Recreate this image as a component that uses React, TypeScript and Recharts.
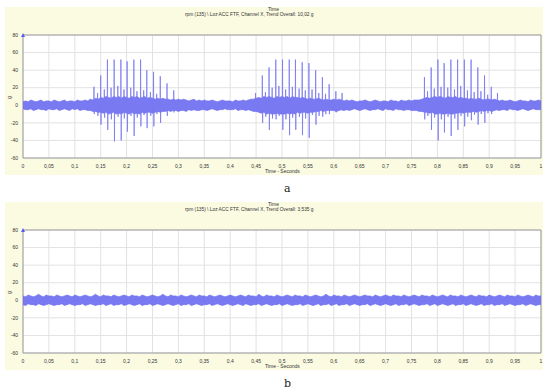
import React from "react";
import { ComposedChart, Line, Area, XAxis, YAxis, CartesianGrid, ReferenceArea, ReferenceDot } from "recharts";

const xTicks = [0, 0.05, 0.1, 0.15, 0.2, 0.25, 0.3, 0.35, 0.4, 0.45, 0.5, 0.55, 0.6, 0.65, 0.7, 0.75, 0.8, 0.85, 0.9, 0.95, 1];
const yTicks = [-60, -40, -20, 0, 20, 40, 60, 80];

const envStep = 0.005;

// envelope of the background vibration, chart a (max / min every 5 ms)
const upperA = [
  4, 5, 4, 6, 5, 4, 5, 6, 4, 5, 5, 4, 6, 5, 4, 5, 6, 4, 5, 5,
  4, 6, 5, 5, 6, 5, 7, 6, 8, 7, 9, 8, 10, 9, 8, 10, 9, 10, 8, 10,
  9, 8, 10, 9, 10, 8, 9, 10, 8, 9, 8, 7, 8, 7, 8, 7, 7, 6, 7, 6,
  7, 6, 7, 6, 5, 6, 7, 5, 6, 5, 6, 5, 5, 6, 5, 4, 5, 6, 5, 5,
  5, 4, 6, 5, 5, 6, 5, 6, 7, 7, 8, 9, 8, 10, 9, 10, 9, 8, 10, 9,
  10, 9, 10, 8, 10, 9, 9, 8, 9, 8, 7, 8, 7, 7, 8, 7, 6, 7, 6, 6,
  7, 6, 7, 6, 5, 6, 5, 6, 5, 4, 5, 5, 6, 5, 4, 5, 6, 5, 4, 5,
  5, 4, 6, 5, 5, 4, 6, 5, 5, 6, 5, 6, 6, 6, 7, 8, 9, 8, 9, 10,
  9, 10, 9, 8, 10, 9, 9, 10, 8, 9, 8, 8, 7, 8, 7, 7, 8, 7, 6, 7,
  7, 6, 7, 6, 5, 6, 5, 5, 6, 5, 4, 5, 6, 5, 5, 4, 6, 5, 5, 6,
  5,
];
const lowerA = [
  -4, -5, -5, -4, -6, -5, -4, -5, -5, -6, -4, -5, -5, -4, -6, -5, -4, -5, -6, -4,
  -5, -4, -6, -5, -5, -6, -6, -7, -7, -8, -8, -9, -8, -10, -9, -8, -10, -9, -10, -8,
  -9, -10, -8, -10, -9, -10, -8, -9, -8, -8, -9, -8, -7, -8, -7, -7, -6, -7, -6, -6,
  -7, -6, -6, -7, -5, -6, -5, -6, -6, -5, -5, -6, -5, -4, -5, -6, -5, -5, -4, -5,
  -5, -5, -4, -6, -5, -5, -6, -5, -6, -7, -7, -8, -9, -8, -10, -9, -10, -10, -9, -10,
  -10, -10, -9, -10, -9, -10, -8, -9, -8, -8, -9, -8, -8, -7, -7, -6, -7, -6, -6, -6,
  -6, -7, -6, -5, -6, -5, -6, -5, -4, -5, -6, -5, -4, -5, -6, -5, -5, -4, -5, -6,
  -4, -5, -5, -6, -4, -5, -5, -6, -5, -5, -6, -6, -6, -7, -7, -8, -8, -9, -8, -10,
  -10, -9, -10, -10, -9, -10, -10, -9, -9, -8, -9, -8, -8, -8, -7, -8, -7, -6, -7, -6,
  -6, -7, -6, -5, -6, -5, -5, -6, -4, -5, -5, -6, -5, -4, -5, -6, -5, -4, -5, -5,
  -5,
];

// impact spikes, chart a
const spikeTimes = [
  0.137, 0.15, 0.163, 0.176, 0.189, 0.201, 0.214, 0.227, 0.239, 0.252, 0.265, 0.278, 0.291,
  0.449, 0.462, 0.475, 0.488, 0.501, 0.514, 0.526, 0.539, 0.552, 0.565, 0.578, 0.591, 0.604, 0.616,
  0.775, 0.788, 0.801, 0.813, 0.826, 0.839, 0.852, 0.865, 0.878, 0.891, 0.904, 0.916,
];
const spikeHigh = [
  21, 34, 52, 52, 52, 50, 52, 52, 40, 38, 33, 25, 17,
  14, 34, 43, 52, 52, 52, 52, 49, 48, 40, 32, 24, 16, 14,
  32, 43, 52, 48, 52, 52, 52, 52, 43, 34, 21, 14,
];
const spikeLow = [
  -10, -22, -28, -41, -40, -30, -35, -24, -26, -24, -20, -12, -8,
  -6, -20, -28, -16, -28, -34, -28, -34, -37, -22, -13, -10, -8, -6,
  -16, -28, -40, -31, -35, -28, -24, -17, -22, -20, -10, -6,
];

// smaller bursts between the impacts, chart a
const minorTimes = [
  0.144, 0.157, 0.17, 0.183, 0.195, 0.208, 0.22, 0.233, 0.246, 0.258,
  0.468, 0.481, 0.494, 0.507, 0.52, 0.533, 0.545, 0.558, 0.571, 0.584,
  0.781, 0.794, 0.807, 0.82, 0.833, 0.845, 0.858, 0.871, 0.884, 0.897,
];
const minorHigh = [
  14, 18, 20, 22, 18, 20, 16, 17, 15, 13,
  15, 20, 22, 18, 21, 19, 17, 18, 14, 13,
  16, 19, 21, 20, 18, 22, 17, 15, 16, 12,
];
const minorLow = [
  -12, -14, -16, -13, -15, -12, -14, -11, -12, -10,
  -13, -15, -12, -16, -14, -13, -15, -11, -12, -10,
  -12, -14, -16, -13, -15, -12, -13, -11, -10, -9,
];

// envelope of the background vibration, chart b
const upperB = [
  5, 4, 6, 5, 4, 5, 7, 5, 4, 6, 5, 5, 4, 6, 5, 4, 5, 6, 5, 4,
  6, 5, 4, 5, 6, 5, 4, 5, 7, 5, 4, 6, 5, 5, 4, 6, 5, 4, 5, 6,
  5, 4, 6, 5, 5, 4, 6, 5, 4, 5, 6, 5, 4, 5, 7, 5, 4, 6, 5, 5,
  4, 6, 5, 4, 5, 6, 5, 4, 6, 5, 5, 4, 6, 5, 4, 5, 6, 5, 4, 5,
  6, 5, 4, 5, 6, 5, 4, 6, 5, 5, 4, 7, 5, 4, 6, 5, 5, 4, 6, 5,
  4, 5, 6, 5, 4, 6, 5, 5, 4, 6, 5, 4, 5, 6, 5, 4, 5, 7, 5, 4,
  6, 5, 5, 4, 6, 5, 4, 5, 6, 5, 4, 5, 6, 5, 5, 4, 6, 5, 4, 5,
  6, 5, 4, 6, 5, 5, 4, 6, 5, 4, 5, 6, 5, 4, 6, 5, 5, 4, 6, 5,
  4, 5, 6, 5, 4, 6, 5, 5, 4, 6, 5, 4, 5, 6, 5, 4, 6, 5, 5, 4,
  6, 5, 4, 5, 6, 5, 4, 6, 5, 5, 4, 6, 5, 4, 5, 6, 5, 4, 6, 5,
  5,
];
const lowerB = [
  -5, -6, -4, -5, -5, -6, -4, -5, -6, -5, -4, -5, -6, -5, -5, -4, -6, -5, -4, -5,
  -6, -5, -5, -4, -6, -5, -4, -5, -6, -5, -5, -4, -6, -5, -4, -6, -5, -5, -4, -6,
  -5, -4, -5, -6, -5, -4, -6, -5, -5, -4, -6, -5, -4, -5, -6, -5, -4, -5, -6, -5,
  -4, -6, -5, -5, -4, -6, -5, -4, -5, -6, -5, -5, -4, -6, -5, -4, -5, -6, -5, -4,
  -5, -6, -5, -4, -5, -6, -4, -5, -6, -5, -5, -4, -6, -5, -4, -5, -6, -5, -5, -4,
  -6, -5, -4, -5, -6, -5, -5, -4, -6, -5, -4, -5, -6, -5, -4, -6, -5, -5, -4, -6,
  -5, -4, -6, -5, -5, -4, -6, -5, -4, -5, -6, -5, -5, -4, -6, -5, -4, -5, -6, -5,
  -4, -5, -6, -5, -4, -6, -5, -5, -4, -6, -5, -4, -5, -6, -5, -5, -4, -6, -5, -4,
  -6, -5, -4, -5, -6, -5, -4, -6, -5, -5, -4, -6, -5, -4, -5, -6, -5, -4, -6, -5,
  -5, -4, -6, -5, -5, -4, -6, -5, -4, -5, -6, -5, -5, -4, -6, -5, -4, -5, -6, -5,
  -5,
];

const buildBand = (upper: number[], lower: number[]) =>
  upper.map((hi, i) => ({ t: i * envStep, band: [lower[i], hi] }));

const buildSpikes = (times: number[][], highs: number[][], lows: number[][]) => {
  const rows: { t: number; v: number }[] = [{ t: 0, v: 0 }];
  times.forEach((list, k) =>
    list.forEach((t, i) => {
      rows.push({ t: t - 0.0004, v: 0 });
      rows.push({ t, v: highs[k][i] });
      rows.push({ t: t + 0.0006, v: lows[k][i] });
      rows.push({ t: t + 0.001, v: 0 });
    })
  );
  rows.push({ t: 1, v: 0 });
  return rows.sort((a, b) => a.t - b.t);
};

const bandA = buildBand(upperA, lowerA);
const bandB = buildBand(upperB, lowerB);
const spikesA = buildSpikes([spikeTimes, minorTimes], [spikeHigh, minorHigh], [spikeLow, minorLow]);

const FONT = "'Liberation Sans', Arial, sans-serif";
const fmt = (v: number) => String(v).replace(".", ",");

const Triangle = (p: any) => (
  <polygon points={`${p.cx - 2},${p.cy + 2} ${p.cx + 2},${p.cy + 2} ${p.cx},${p.cy - 2}`} fill="#5a5af0" />
);

function Panel({ top, band, spikes, subtitle, tag }: { top: number; band: any[]; spikes: any[] | null; subtitle: string; tag: string }) {
  const small: React.CSSProperties = { position: "absolute", fontFamily: FONT, color: "#333", whiteSpace: "nowrap", lineHeight: 1 };
  return (
    <>
      <div style={{ position: "absolute", left: 5, top, width: 538, height: 168, background: "#fbfbe2" }}>
        <div style={{ ...small, left: 263, top: 0, fontSize: 5 }}>Time</div>
        <div style={{ ...small, left: 180, top: 6, fontSize: 4.8 }}>{subtitle}</div>
        <div style={{ ...small, left: 260, top: 162, fontSize: 5 }}>Time - Seconds</div>
        <div style={{ ...small, left: 3, top: 88, fontSize: 5, transform: "rotate(-90deg)" }}>g</div>
        <ComposedChart width={538} height={168} margin={{ top: 28, right: 2, left: 0, bottom: 0 }}>
          <CartesianGrid stroke="#e2e2e2" fill="#ffffff" fillOpacity={1} />
          <XAxis
            type="number"
            dataKey="t"
            domain={[0, 1]}
            ticks={xTicks}
            interval={0}
            tickFormatter={fmt}
            tick={{ fontSize: 5, fill: "#333", fontFamily: FONT }}
            axisLine={false}
            tickLine={false}
            tickSize={5}
            tickMargin={1}
            height={17}
            allowDuplicatedCategory={false}
          />
          <YAxis
            type="number"
            domain={[-60, 80]}
            ticks={yTicks}
            interval={0}
            tick={{ fontSize: 5, fill: "#333", fontFamily: FONT }}
            axisLine={false}
            tickLine={false}
            tickSize={5}
            tickMargin={0}
            width={18}
          />
          <ReferenceArea x1={0} x2={1} y1={-60} y2={80} fill="none" stroke="#9c9c9c" strokeWidth={1} />
          <Area
            data={band}
            type="linear"
            dataKey="band"
            stroke="#6a6af0"
            strokeWidth={0.6}
            fill="#6e6ef0"
            fillOpacity={0.92}
            dot={false}
            activeDot={false}
            isAnimationActive={false}
          />
          {spikes && (
            <Line
              data={spikes}
              type="linear"
              dataKey="v"
              stroke="#7a7af2"
              strokeWidth={0.8}
              dot={false}
              activeDot={false}
              isAnimationActive={false}
            />
          )}
          <ReferenceDot x={0} y={80} r={2} shape={Triangle} />
        </ComposedChart>
      </div>
      <div style={{ position: "absolute", left: 284, top: top + 176, fontFamily: "'DejaVu Serif', 'Liberation Serif', serif", fontSize: 11, color: "#222", lineHeight: 1 }}>
        {tag}
      </div>
    </>
  );
}

export default function App() {
  return (
    <div style={{ position: "fixed", left: 0, top: 0, width: 550, height: 392, background: "#ffffff", overflow: "hidden" }}>
      <Panel top={7} band={bandA} spikes={spikesA} subtitle="rpm (135) \ Loz ACC FTF, Channel X, Trend Overall: 10,02 g" tag="a" />
      <Panel top={202} band={bandB} spikes={null} subtitle="rpm (135) \ Loz ACC FTF, Channel X, Trend Overall: 3,535 g" tag="b" />
    </div>
  );
}
